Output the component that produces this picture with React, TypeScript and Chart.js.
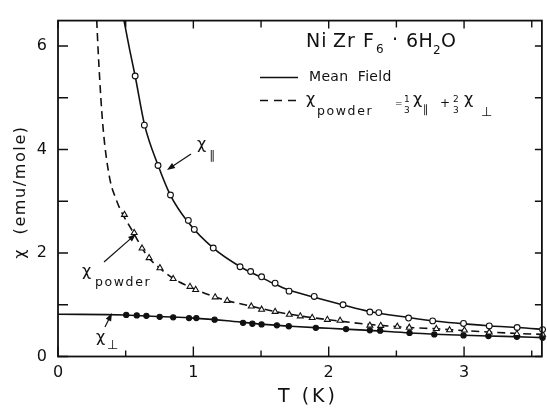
import React, { useEffect, useRef } from 'react';
import { Chart, registerables } from 'chart.js';

Chart.register(...registerables);

// ---- Data ----
// χ∥ measured points (open circles)
const parT = [0.570, 0.638, 0.739, 0.831, 0.963, 1.007, 1.147, 1.345, 1.423, 1.504, 1.604, 1.707, 1.893, 2.106, 2.304, 2.370, 2.590, 2.768, 2.996, 3.186, 3.392, 3.580];
const parChi = [5.42, 4.47, 3.69, 3.12, 2.63, 2.455, 2.095, 1.734, 1.642, 1.54, 1.416, 1.263, 1.16, 1.0, 0.859, 0.848, 0.743, 0.688, 0.639, 0.59, 0.56, 0.52];

// χ powder measured points (open triangles)
const powT = [0.491, 0.563, 0.621, 0.673, 0.753, 0.851, 0.975, 1.017, 1.161, 1.250, 1.428, 1.504, 1.604, 1.709, 1.790, 1.878, 1.990, 2.084, 2.304, 2.384, 2.507, 2.595, 2.795, 2.893, 3.003, 3.186, 3.390, 3.580];
const powChi = [2.74, 2.39, 2.09, 1.905, 1.71, 1.50, 1.35, 1.29, 1.147, 1.079, 0.969, 0.908, 0.866, 0.811, 0.78, 0.749, 0.712, 0.694, 0.60, 0.596, 0.578, 0.56, 0.535, 0.51, 0.505, 0.468, 0.437, 0.426];

// χ⊥ measured points (filled circles)
const perpT = [0.504, 0.582, 0.653, 0.751, 0.851, 0.968, 1.022, 1.157, 1.367, 1.436, 1.504, 1.617, 1.705, 1.905, 2.128, 2.304, 2.380, 2.597, 2.780, 2.996, 3.180, 3.390, 3.580];
const perpChi = [0.804, 0.793, 0.786, 0.767, 0.756, 0.743, 0.743, 0.712, 0.651, 0.633, 0.62, 0.602, 0.584, 0.555, 0.529, 0.505, 0.499, 0.455, 0.426, 0.407, 0.394, 0.382, 0.363];

// Mean-field curves
const parFitT = [0.487, 0.53, 0.57, 0.64, 0.74, 0.83, 0.96, 1.15, 1.35, 1.5, 1.6, 1.7, 1.9, 2.1, 2.3, 2.6, 2.8, 3.0, 3.2, 3.4, 3.6];
const parFitChi = [6.5, 5.92, 5.42, 4.47, 3.69, 3.12, 2.6, 2.09, 1.73, 1.53, 1.40, 1.29, 1.14, 1.0, 0.87, 0.75, 0.68, 0.63, 0.59, 0.56, 0.52];

const powFitT = [0.286, 0.296, 0.309, 0.324, 0.345, 0.387, 0.426, 0.46, 0.49, 0.56, 0.62, 0.67, 0.75, 0.85, 0.97, 1.16, 1.25, 1.43, 1.6, 1.8, 2.0, 2.3, 2.6, 2.8, 3.0, 3.2, 3.4, 3.6];
const powFitChi = [6.5, 5.94, 5.32, 4.71, 4.10, 3.38, 3.06, 2.84, 2.69, 2.38, 2.10, 1.91, 1.71, 1.51, 1.35, 1.15, 1.08, 0.97, 0.87, 0.78, 0.71, 0.62, 0.56, 0.535, 0.50, 0.47, 0.445, 0.425];

const perpFitT = [0, 0.5, 0.75, 1.0, 1.25, 1.5, 1.75, 2.0, 2.3, 2.6, 3.0, 3.3, 3.6];
const perpFitChi = [0.816, 0.803, 0.772, 0.742, 0.69, 0.625, 0.58, 0.545, 0.505, 0.455, 0.41, 0.388, 0.362];

// Axes
const xMajorTicks = [0, 1, 2, 3];
const xMinorTicks = [0.5, 1.5, 2.5, 3.5];
const xTickLabels = ['0', '1', '2', '3'];
const yMajorTicks = [0, 2, 4, 6];
const yMinorTicks = [1, 3, 5];
const yTickLabels = ['0', '2', '4', '6'];
const X_MIN = 0;
const X_MAX = 3.575;
const Y_MIN = 0;
const Y_MAX = 6.49;

const FONT = '"DejaVu Sans", "Liberation Sans", sans-serif';
const INK = '#111';

function pts(xs: number[], ys: number[]) {
  return xs.map((x, i) => ({ x, y: ys[i] }));
}

function txt(ctx: CanvasRenderingContext2D, s: string, x: number, y: number, size: number, spacing = 0, align: CanvasTextAlign = 'left') {
  ctx.save();
  ctx.font = `${size}px ${FONT}`;
  ctx.fillStyle = INK;
  ctx.textAlign = align;
  ctx.textBaseline = 'alphabetic';
  (ctx as any).letterSpacing = `${spacing}px`;
  ctx.fillText(s, x, y);
  ctx.restore();
}

function arrow(ctx: CanvasRenderingContext2D, x1: number, y1: number, x2: number, y2: number) {
  const ang = Math.atan2(y2 - y1, x2 - x1);
  const L = 8, W = 3;
  ctx.save();
  ctx.strokeStyle = INK;
  ctx.fillStyle = INK;
  ctx.lineWidth = 1.2;
  ctx.beginPath();
  ctx.moveTo(x1, y1);
  ctx.lineTo(x2 - Math.cos(ang) * L * 0.6, y2 - Math.sin(ang) * L * 0.6);
  ctx.stroke();
  ctx.beginPath();
  ctx.moveTo(x2, y2);
  ctx.lineTo(x2 - Math.cos(ang) * L - Math.sin(ang) * W, y2 - Math.sin(ang) * L + Math.cos(ang) * W);
  ctx.lineTo(x2 - Math.cos(ang) * L + Math.sin(ang) * W, y2 - Math.sin(ang) * L - Math.cos(ang) * W);
  ctx.closePath();
  ctx.fill();
  ctx.restore();
}

const framePlugin = {
  id: 'frameTicks',
  afterDatasetsDraw(chart: any) {
    const { ctx, chartArea } = chart;
    const { left, right, top, bottom } = chartArea;
    const xs = chart.scales.x;
    const ys = chart.scales.y;
    ctx.save();
    ctx.strokeStyle = INK;
    ctx.lineWidth = 1.8;
    ctx.strokeRect(left, top, right - left, bottom - top);
    ctx.lineWidth = 1.4;
    ctx.beginPath();
    const xt = (v: number, lb: number, lt: number) => {
      const p = xs.getPixelForValue(v);
      ctx.moveTo(p, bottom); ctx.lineTo(p, bottom - lb);
      ctx.moveTo(p, top); ctx.lineTo(p, top + lt);
    };
    xMajorTicks.forEach(v => xt(v, 10, 8));
    xMinorTicks.forEach(v => xt(v, 6, 7));
    const yt = (v: number, ll: number, lr: number) => {
      const p = ys.getPixelForValue(v);
      ctx.moveTo(left, p); ctx.lineTo(left + ll, p);
      ctx.moveTo(right, p); ctx.lineTo(right - lr, p);
    };
    yMajorTicks.forEach(v => yt(v, 10, 7));
    yMinorTicks.forEach(v => yt(v, 10, 7));
    ctx.stroke();
    ctx.restore();

    // Axis titles
    ctx.save();
    ctx.translate(25, 192);
    ctx.rotate(-Math.PI / 2);
    txt(ctx, 'χ  (emu/mole)', 0, 0, 16, 1.6, 'center');
    ctx.restore();
    txt(ctx, 'T (K)', 308, 402, 19, 3, 'center');

    // Compound name
    txt(ctx, 'Ni', 306, 47, 19, 1);
    txt(ctx, 'Zr', 333, 47, 19, 1);
    txt(ctx, 'F', 363, 47, 19);
    txt(ctx, '6', 376, 53, 12);
    txt(ctx, '·', 392, 46, 19);
    txt(ctx, '6H', 406, 47, 19, 0.5);
    txt(ctx, '2', 433, 54, 12);
    txt(ctx, 'O', 441, 47, 19);

    // Legend
    ctx.save();
    ctx.strokeStyle = INK;
    ctx.lineWidth = 1.6;
    ctx.beginPath();
    ctx.moveTo(260, 77.5); ctx.lineTo(298, 77.5);
    ctx.stroke();
    ctx.setLineDash([8, 6]);
    ctx.beginPath();
    ctx.moveTo(260, 100.5); ctx.lineTo(298, 100.5);
    ctx.stroke();
    ctx.restore();
    txt(ctx, 'Mean  Field', 309, 81, 14, 0.3);

    txt(ctx, 'χ', 306, 104, 16);
    txt(ctx, 'powder', 317, 115, 12.5, 1.6);
    txt(ctx, '=', 395, 106, 9);
    txt(ctx, '1', 404, 102, 9);
    txt(ctx, '3', 404, 113, 9);
    txt(ctx, 'χ', 413, 104, 16);
    txt(ctx, '∥', 423, 113, 11);
    txt(ctx, '+', 440, 107, 12);
    txt(ctx, '2', 453, 102, 9);
    txt(ctx, '3', 453, 113, 9);
    txt(ctx, 'χ', 464, 104, 16);
    txt(ctx, '⊥', 481, 116, 13);

    // In-plot labels
    txt(ctx, 'χ', 197, 149, 16);
    txt(ctx, '∥', 209, 159, 12);
    arrow(ctx, 191, 154, 167, 170);

    txt(ctx, 'χ', 82, 276, 16);
    txt(ctx, 'powder', 95, 286, 12.5, 1.6);
    arrow(ctx, 104, 262, 136, 234);

    txt(ctx, 'χ', 96, 342, 16);
    txt(ctx, '⊥', 107, 349, 13);
    arrow(ctx, 105, 327, 112, 313);
  },
};

export default function App() {
  const ref = useRef<HTMLCanvasElement | null>(null);

  useEffect(() => {
    document.body.style.margin = '0';
    const canvas = ref.current;
    if (!canvas) return;
    Chart.defaults.font.family = FONT;
    Chart.defaults.color = INK;

    const lineBase = {
      type: 'line' as const,
      borderColor: INK,
      borderWidth: 1.6,
      pointRadius: 0,
      fill: false,
      cubicInterpolationMode: 'monotone' as const,
      order: 2,
    };
    const pointBase = {
      type: 'scatter' as const,
      borderColor: INK,
      borderWidth: 1.1,
      showLine: false,
      clip: false as any,
      order: 1,
    };

    const chart = new Chart(canvas, {
      type: 'scatter',
      data: {
        datasets: [
          { ...lineBase, label: 'χ∥ mean field', data: pts(parFitT, parFitChi) },
          { ...lineBase, label: 'χpowder', data: pts(powFitT, powFitChi), borderDash: [8, 5] },
          { ...lineBase, label: 'χ⊥ mean field', data: pts(perpFitT, perpFitChi) },
          { ...pointBase, label: 'χ∥', data: pts(parT, parChi), pointStyle: 'circle', pointRadius: 2.9, backgroundColor: '#fff' },
          { ...pointBase, label: 'χpowder data', data: pts(powT, powChi), pointStyle: 'triangle', pointRadius: 3.4, backgroundColor: '#fff' },
          { ...pointBase, label: 'χ⊥', data: pts(perpT, perpChi), pointStyle: 'circle', pointRadius: 2.6, backgroundColor: INK },
        ] as any,
      },
      options: {
        animation: false,
        responsive: false,
        events: [],
        layout: { padding: { top: 3, right: 2, left: 0, bottom: 0 } },
        plugins: { legend: { display: false }, tooltip: { enabled: false } },
        scales: {
          x: {
            type: 'linear',
            min: X_MIN,
            max: X_MAX,
            grid: { display: false, drawTicks: false },
            border: { display: false },
            afterBuildTicks: (s: any) => { s.ticks = xMajorTicks.map(v => ({ value: v })); },
            afterFit: (s: any) => { s.height = 53.5; },
            ticks: {
              autoSkip: false,
              maxRotation: 0,
              padding: 7,
              font: { size: 16 },
              color: INK,
              callback: (_v: any, i: number) => xTickLabels[i],
            },
          },
          y: {
            type: 'linear',
            min: Y_MIN,
            max: Y_MAX,
            grid: { display: false, drawTicks: false },
            border: { display: false },
            afterBuildTicks: (s: any) => { s.ticks = yMajorTicks.map(v => ({ value: v })); },
            afterFit: (s: any) => { s.width = 58; },
            ticks: {
              autoSkip: false,
              padding: 11,
              font: { size: 16 },
              color: INK,
              callback: (_v: any, i: number) => yTickLabels[i],
            },
          },
        },
      },
      plugins: [framePlugin],
    });
    return () => chart.destroy();
  }, []);

  return (
    <div style={{ position: 'absolute', left: 0, top: 0, width: 547, height: 410, background: '#fff' }}>
      <canvas ref={ref} width={547} height={410} style={{ display: 'block', width: 547, height: 410 }} />
    </div>
  );
}
